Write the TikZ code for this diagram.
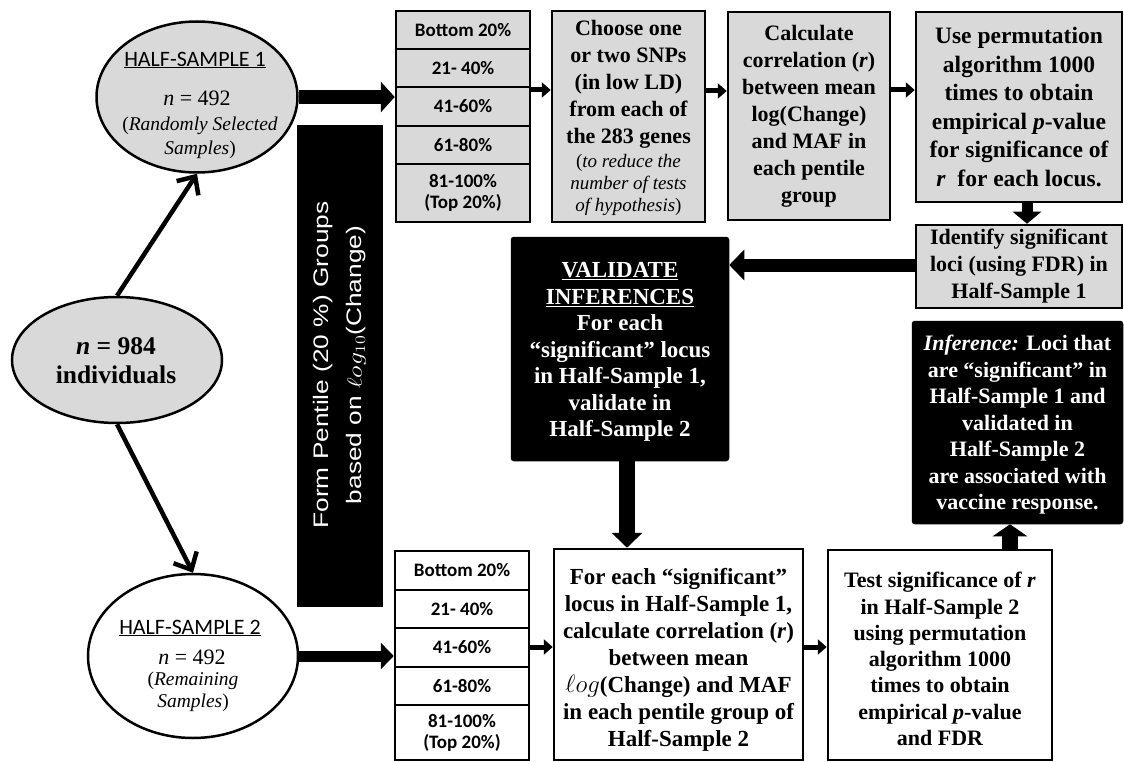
\documentclass[tikz,border=0pt]{standalone}
\usepackage{fontspec}
\setmainfont{Liberation Serif}
\newfontfamily\calib{Carlito}
\newfontfamily\arialf{Liberation Sans}
\usetikzlibrary{arrows.meta,shapes.geometric}
\definecolor{boxgray}{HTML}{D9D9D9}
\newcommand\snpit[1]{{\fontsize{19}{23}\selectfont\mdseries\itshape #1}}
\tikzset{
  base/.style={draw=black, line width=2.5pt, inner sep=0pt, align=center},
  graybox/.style={base, fill=boxgray},
  whitebox/.style={base, fill=white},
  blackbox/.style={base, fill=black, rounded corners=2pt, text=white},
  pent/.style={font=\calib\bfseries\fontsize{19}{21}\selectfont},
  btxt/.style={font=\fontsize{22}{27}\selectfont\bfseries},
  oval/.style={draw=black, line width=2.5pt, ellipse, inner sep=0pt},
  sarrow/.style={line width=5pt, -{Triangle[length=9pt,width=15pt]}},
  barrow/.style={line width=14pt, -{Triangle[length=14pt,width=30pt]}},
  larrow/.style={line width=4.5pt, -{Straight Barb[length=14pt,width=26pt]}}
}
\begin{document}
\begin{tikzpicture}[x=1pt,y=-1pt]
\useasboundingbox (0,0) rectangle (1124,762);

% ellipses
\node[oval, fill=boxgray, minimum width=201pt, minimum height=151pt] (hs1) at (197,97) {};
\node[font=\calib\fontsize{22}{26}\selectfont] (hs1a) at (195,60) {\underline{HALF-SAMPLE 1}};
\node[font=\fontsize{22}{26}\selectfont] (hs1b) at (197,98) {\textit{n} = 492};
\node[font=\fontsize{19.5}{24}\selectfont, align=center] (hs1c) at (200,138) {(\textit{Randomly Selected}\\\textit{Samples})};

\node[oval, fill=boxgray, minimum width=210pt, minimum height=126pt] (all) at (117,360) {};
\node[font=\fontsize{25.5}{29}\selectfont\bfseries, align=center] (allt) at (116,361) {\textit{n} = 984\\individuals};

\node[oval, fill=white, minimum width=210pt, minimum height=164pt] (hs2) at (193,656) {};
\node[font=\calib\fontsize{22}{26}\selectfont] (hs2a) at (190,628) {\underline{HALF-SAMPLE 2}};
\node[font=\fontsize{22}{26}\selectfont] (hs2b) at (192,657) {\textit{n} = 492};
\node[font=\fontsize{19.5}{22}\selectfont, align=center] (hs2c) at (193,692) {(\textit{Remaining}\\\textit{Samples})};

% black bar
\node[fill=black, minimum width=86pt, minimum height=482pt, inner sep=0pt] (bar) at (340,366) {};
\node[rotate=90, text=white, font=\arialf\fontsize{21}{33}\selectfont, align=center] (bart) at (340,365)
  {\scalebox{1.25}[1]{Form Pentile (20 \%) Groups}\\\scalebox{1.25}[1]{based on $\ell og_{10}$(Change)}};

% top pentile boxes
\node[graybox, pent, minimum width=134pt, minimum height=38pt] (p1a) at (463,30) {Bottom 20\%};
\node[graybox, pent, minimum width=134pt, minimum height=38pt] (p1b) at (463,68) {21- 40\%};
\node[graybox, pent, minimum width=134pt, minimum height=39pt] (p1c) at (463,106.5) {41-60\%};
\node[graybox, pent, minimum width=134pt, minimum height=38pt] (p1d) at (463,145) {61-80\%};
\node[graybox, pent, minimum width=134pt, minimum height=58pt] (p1e) at (463,193) {81-100\%\\(Top 20\%)};

% bottom pentile boxes
\node[whitebox, pent, minimum width=134pt, minimum height=39pt] (p2a) at (462,570.5) {Bottom 20\%};
\node[whitebox, pent, minimum width=134pt, minimum height=38pt] (p2b) at (462,609) {21- 40\%};
\node[whitebox, pent, minimum width=134pt, minimum height=39pt] (p2c) at (462,647.5) {41-60\%};
\node[whitebox, pent, minimum width=134pt, minimum height=38pt] (p2d) at (462,686) {61-80\%};
\node[whitebox, pent, minimum width=134pt, minimum height=55pt] (p2e) at (462,732.5) {81-100\%\\(Top 20\%)};

% process boxes
\node[graybox, btxt, minimum width=153pt, minimum height=211pt] (snp) at (628.5,116.5) {};
\node[btxt, align=center] (snpt) at (628.5,118)
  {Choose one\\or two SNPs\\(in low LD)\\from each of\\the 283 genes\\[-3pt]\snpit{\textup{(}to reduce the}\\[-5pt]\snpit{number of tests}\\[-5pt]\snpit{of hypothesis\textup{)}}};
\node[graybox, btxt, minimum width=162pt, minimum height=208pt] (calc) at (809,116)
  {Calculate\\correlation (\textit{r})\\between mean\\log(Change)\\and MAF in\\each pentile\\group};
\node[graybox, btxt, font=\fontsize{23.5}{28.5}\selectfont\bfseries, minimum width=206pt, minimum height=190pt] (perm) at (1019,107)
  {Use permutation\\algorithm 1000\\times to obtain\\empirical \textit{p}-value\\for significance of\\\textit{r}~ for each locus.};
\node[graybox, btxt, minimum width=206pt, minimum height=83pt] (ident) at (1019,266.5)
  {Identify significant\\loci (using FDR) in\\Half-Sample 1};
\node[blackbox, minimum width=216pt, minimum height=222pt] (valid) at (620,349) {};
\node[btxt, font=\fontsize{23}{26.5}\selectfont\bfseries, text=white, align=center] (validt) at (620,352)
  {\underline{VALIDATE}\\\underline{INFERENCES}\\For each\\“significant” locus\\in Half-Sample 1,\\validate in\\Half-Sample 2};
\node[blackbox, minimum width=209pt, minimum height=201pt] (infer) at (1017.5,422.5) {};
\node[btxt, font=\fontsize{22}{26.5}\selectfont\bfseries, text=white, align=center] (infert) at (1017.5,425)
  {\textit{Inference:} Loci that\\are “significant” in\\Half-Sample 1 and\\validated in\\Half-Sample 2\\are associated with\\vaccine response.};
\node[whitebox, minimum width=249pt, minimum height=211pt] (fore) at (678.5,654.5) {};
\node[font=\fontsize{23}{27}\selectfont\bfseries, align=center] (foret) at (678.5,659.5)
  {For each “significant”\\locus in Half-Sample 1,\\calculate correlation (\textit{r})\\between mean\\$\ell og$(Change) and MAF\\in each pentile group of\\Half-Sample 2};
\node[whitebox, minimum width=224pt, minimum height=210pt] (test) at (940,655) {};
\node[font=\fontsize{22}{26.3}\selectfont\bfseries, align=center] (testt) at (940,659)
  {Test significance of \textit{r}\\in Half-Sample 2\\using permutation\\algorithm 1000\\times to obtain\\empirical \textit{p}-value\\and FDR};

% connectors
\draw[larrow] (all.north) -- (hs1.south);
\draw[larrow] (all.south) -- (hs2.north);
\draw[barrow] (hs1.east) -- (hs1.east -| p1c.west);
\draw[line width=11pt, -{Triangle[length=13pt,width=26pt]}] (hs2.east) -- (hs2.east -| p2c.west);
\draw[sarrow] (p1c.east |- 0,90) -- (snp.west |- 0,90);
\draw[sarrow] (snp.east |- 0,91) -- (calc.west |- 0,91);
\draw[sarrow] (calc.east |- 0,90) -- (perm.west |- 0,90);
\draw[line width=11pt, -{Triangle[length=12pt,width=28pt]}] (perm.south -| 1027,0) -- (ident.north -| 1027,0);
\draw[line width=13pt, -{Triangle[length=15pt,width=30pt]}] (ident.west |- 0,265) -- (valid.east |- 0,265);
\draw[line width=16pt, -{Triangle[length=15pt,width=30pt]}] (valid.south -| 627,0) -- (fore.north -| 627,0);
\draw[sarrow] (p2c.east |- 0,647) -- (fore.west |- 0,647);
\draw[sarrow] (fore.east |- 0,647) -- (test.west |- 0,647);
\draw[line width=16pt, -{Triangle[length=12pt,width=34pt]}] (test.north -| 1010,0) -- (infer.south -| 1010,0);
\end{tikzpicture}
\end{document}
